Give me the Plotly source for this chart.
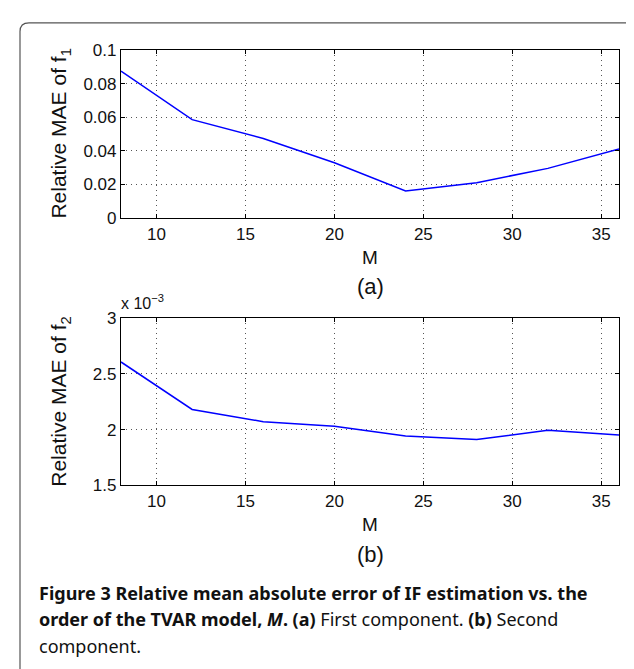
import plotly.graph_objects as go

# ---- data ----
M_values = [8, 12, 16, 20, 24, 28, 32, 36]
mae_f1 = [0.0874, 0.0586, 0.0474, 0.0329, 0.0161, 0.0211, 0.0296, 0.0412]
mae_f2 = [2.607e-3, 2.181e-3, 2.071e-3, 2.030e-3, 1.943e-3, 1.911e-3, 1.995e-3, 1.951e-3]
f1_ticks = [0, 0.02, 0.04, 0.06, 0.08, 0.1]
f2_ticks = [1.5e-3, 2e-3, 2.5e-3, 3e-3]
f2_ticktext = ["1.5", "2", "2.5", "3"]
x_ticks = [10, 15, 20, 25, 30, 35]

W, H = 634, 669
def px(x):
    return x / W
def py(y):
    return 1 - y / H

fig = go.Figure()
fig.add_trace(go.Scatter(x=M_values, y=mae_f1, mode="lines",
                         line=dict(color="#0000ff", width=1.5),
                         xaxis="x", yaxis="y", showlegend=False))
fig.add_trace(go.Scatter(x=M_values, y=mae_f2, mode="lines",
                         line=dict(color="#0000ff", width=1.5),
                         xaxis="x2", yaxis="y2", showlegend=False))

FAM = "Liberation Sans, Arial, sans-serif"
tickfont = dict(family=FAM, size=17, color="#111")
common_axis = dict(showline=True, mirror="ticks", linecolor="black", linewidth=1.2,
                   ticks="inside", ticklen=4, tickcolor="black",
                   showgrid=True, gridcolor="#555", gridwidth=1, griddash="1px,4px",
                   zeroline=False, tickfont=tickfont)

xd = [px(113), px(611)]
fig.update_layout(
    width=W, height=H, margin=dict(l=0, r=0, t=0, b=0),
    paper_bgcolor="white", plot_bgcolor="white",
    xaxis=dict(domain=xd, range=[8, 36], tickvals=x_ticks, anchor="y", **common_axis),
    yaxis=dict(domain=[py(207), py(34)], range=[0, 0.1], tickvals=f1_ticks,
               anchor="x", **common_axis),
    xaxis2=dict(domain=xd, range=[8, 36], tickvals=x_ticks, anchor="y2", **common_axis),
    yaxis2=dict(domain=[py(482), py(310)], range=[1.5e-3, 3e-3], tickvals=f2_ticks,
                ticktext=f2_ticktext, anchor="x2", **common_axis),
)

ylab_font = dict(family=FAM, size=21, color="#111")
m_font = dict(family=FAM, size=19, color="#111")
sub_font = dict(family=FAM, size=22, color="#111")
ann = []
ann.append(dict(text="Relative MAE of f<sub>1</sub>", x=px(52), y=py(120), textangle=-90,
                font=ylab_font))
ann.append(dict(text="Relative MAE of f<sub>2</sub>", x=px(52), y=py(396), textangle=-90,
                font=ylab_font))
ann.append(dict(text="M", x=px(362), y=py(248), font=m_font))
ann.append(dict(text="(a)", x=px(362), y=py(277), font=sub_font))
ann.append(dict(text="M", x=px(362), y=py(522), font=m_font))
ann.append(dict(text="(b)", x=px(362), y=py(553), font=sub_font))
ann.append(dict(text="x 10<sup>\u22123</sup>", x=px(111), y=py(293), xanchor="left",
                font=dict(family=FAM, size=16, color="#111")))

cap_font = dict(family="Noto Sans, sans-serif", size=18, color="#111")
cap_lines = [
    "<b>Figure 3 Relative mean absolute error of IF estimation vs. the</b>",
    "<b>order of the TVAR model, <i>M</i>. (a)</b> First component. <b>(b)</b> Second",
    "component.",
]
cap_y = [593, 620, 647]
for t, yy in zip(cap_lines, cap_y):
    ann.append(dict(text=t, x=px(29), y=py(yy), xanchor="left", font=cap_font))

for a in ann:
    a.setdefault("xanchor", "center")
    a.update(xref="paper", yref="paper", yanchor="middle", showarrow=False)
fig.update_layout(annotations=ann)

# card border (rounded top-left corner)
r = 9
x0, y0 = 12, 6
path = (f"M {px(x0)},{py(H + 5)} L {px(x0)},{py(y0 + r)} "
        f"Q {px(x0)},{py(y0)} {px(x0 + r)},{py(y0)} "
        f"L {px(626)},{py(y0)} Q {px(633)},{py(y0)} {px(633.5)},{py(y0 + 4)}")
fig.add_shape(type="path", path=path, xref="paper", yref="paper",
              line=dict(color="#555", width=1.2))

fig.write_html("out.html")
